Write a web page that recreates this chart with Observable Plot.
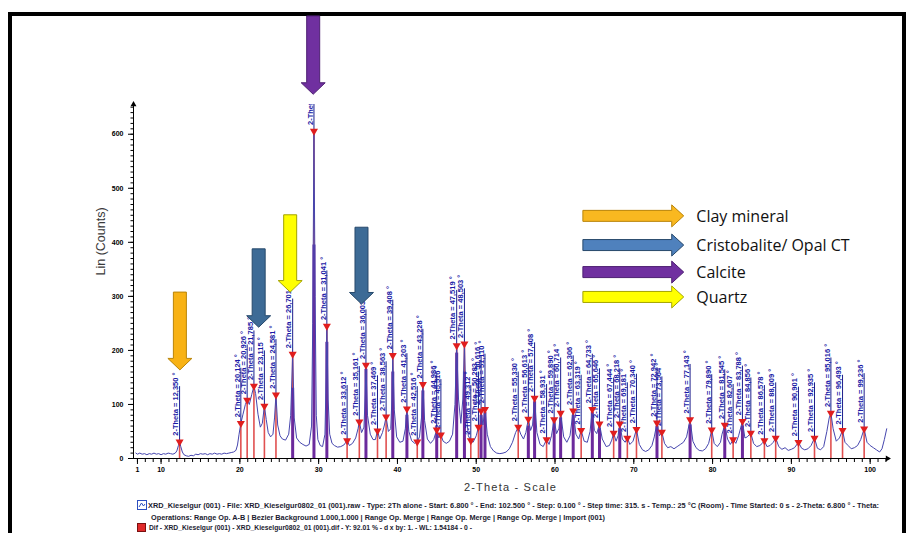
<!DOCTYPE html>
<html><head><meta charset="utf-8">
<script src="https://cdn.jsdelivr.net/npm/d3@7"></script>
<script src="https://cdn.jsdelivr.net/npm/@observablehq/plot@0.6"></script>
<style>
html,body{margin:0;padding:0;background:#fff;}
#wrap{position:relative;width:912px;height:533px;overflow:hidden;background:#fff;font-family:"Liberation Sans",Arial,sans-serif;}
#frame{position:absolute;left:8px;top:12px;width:890px;height:600px;border:4px solid #000;}
#chart{position:absolute;left:0;top:0;}
#caption{position:absolute;left:0;top:495px;}
</style></head><body>
<div id="wrap"><div id="frame"></div><div id="chart"></div></div>
<script>
// ---------- data ----------
const xDomain = [6.5, 102.2];
const yDomain = [0, 655];
const xTicks = [7, 10, 20, 30, 40, 50, 60, 70, 80, 90, 100];
const xTickLabels = ["1", "10", "20", "30", "40", "50", "60", "70", "80", "90", "100"];
const yTicks = [0, 100, 200, 300, 400, 500, 600];

// measured scan (2-Theta, counts)
const scan = [
 [6.8,10],[7.0,8],[7.3,10],[7.6,8],[7.9,9],[8.2,7],[8.5,9],[8.8,8],[9.1,10],[9.4,8],[9.7,9],[10.0,7],[10.3,9],[10.6,8],[10.9,10],[11.2,9],[11.5,8],[11.8,10],[12.0,14],[12.2,24],[12.35,31],[12.5,22],[12.7,12],[12.9,7],[13.2,5],[13.5,4],[13.8,6],[14.1,5],[14.4,8],[14.7,7],[15.0,9],[15.3,8],[15.6,9],[15.9,7],[16.2,9],[16.5,8],[16.8,10],[17.1,8],[17.4,9],[17.7,8],[18.0,10],[18.3,9],[18.6,10],[18.9,11],[19.2,12],[19.5,15],[19.7,25],[19.9,45],
 [20.124,65],[20.4,82],[20.7,100],[20.926,108],[21.2,100],[21.5,118],[21.785,134],[22.0,120],[22.3,82],[22.6,58],[22.85,65],[23.115,97],[23.35,72],[23.6,48],[23.9,40],[24.2,45],[24.4,75],[24.581,118],[24.8,62],[25.1,42],[25.4,36],[25.8,34],[26.2,45],[26.45,80],[26.701,193],[26.9,75],[27.2,38],[27.6,30],[28.0,26],[28.4,23],[28.8,26],[29.1,60],[29.25,250],[29.404,606],[29.55,300],[29.7,80],[29.9,35],
 [30.2,24],[30.5,22],[30.8,45],[30.95,150],[31.041,245],[31.2,110],[31.4,45],[31.7,28],[32.0,24],[32.4,21],[32.8,22],[33.2,25],[33.612,33],[33.9,24],[34.3,28],[34.7,38],[35.0,55],[35.161,68],[35.45,48],[35.75,58],[35.92,120],[36.003,173],[36.2,80],[36.55,45],[36.9,35],[37.2,35],[37.469,51],[37.75,36],[38.1,48],[38.35,62],[38.563,77],[38.85,50],[39.15,55],[39.3,110],[39.408,191],[39.6,90],[39.9,40],
 [40.3,30],[40.7,32],[41.0,55],[41.203,92],[41.45,50],[41.8,33],[42.2,28],[42.516,31],[42.8,40],[43.05,75],[43.228,137],[43.45,70],[43.8,36],[44.2,28],[44.6,35],[44.986,53],[45.25,38],[45.516,44],[45.8,32],[46.2,28],[46.6,32],[47.0,45],[47.3,100],[47.519,209],[47.75,110],[48.05,65],[48.3,110],[48.503,212],[48.75,80],[49.0,42],[49.312,33],[49.6,30],[50.0,42],[50.283,58],[50.45,55],[50.616,88],[50.85,62],[51.11,91],[51.4,45],[51.8,22],
 [52.2,14],[52.6,10],[53.0,9],[53.4,10],[53.8,12],[54.2,18],[54.6,30],[55.0,48],[55.33,58],[55.65,45],[56.0,36],[56.3,48],[56.613,73],[56.9,52],[57.15,62],[57.408,112],[57.7,48],[58.1,26],[58.5,22],[58.931,35],[59.25,26],[59.55,42],[59.89,72],[60.2,46],[60.5,56],[60.714,84],[61.1,40],[61.5,30],[61.9,42],[62.306,88],[62.65,45],[63.0,36],[63.319,52],[63.7,32],[64.1,30],[64.45,50],[64.733,91],[65.0,52],[65.3,46],[65.646,64],[66.0,36],[66.5,22],[66.9,24],[67.2,34],[67.444,47],[67.75,32],[68.0,42],[68.218,64],[68.55,36],[68.9,30],[69.181,38],[69.5,26],[69.9,32],[70.34,54],[70.7,26],
 [71.1,16],[71.5,13],[71.9,16],[72.3,24],[72.6,40],[72.942,66],[73.25,42],[73.564,49],[73.9,28],[74.3,20],[74.7,22],[75.1,18],[75.5,22],[75.9,26],[76.3,30],[76.7,40],[77.143,72],[77.5,32],[77.9,20],[78.3,15],[78.7,14],[79.1,18],[79.5,28],[79.89,53],[80.2,28],[80.6,22],[81.0,30],[81.2,45],[81.545,62],[81.9,36],[82.25,26],[82.607,35],[82.95,28],[83.3,42],[83.788,69],[84.1,38],[84.4,40],[84.856,47],[85.2,28],[85.6,22],[86.0,24],[86.3,28],[86.578,33],[86.9,22],[87.3,24],[87.7,30],[88.009,38],[88.4,22],[88.8,17],[89.2,20],[89.6,15],[90.0,17],[90.4,20],[90.901,30],
 [91.3,19],[91.7,16],[92.1,18],[92.5,24],[92.935,38],[93.3,19],[93.7,16],[94.1,22],[94.5,50],[94.8,75],[95.016,84],[95.3,55],[95.7,32],[96.1,38],[96.493,52],[96.8,30],[97.2,24],[97.6,18],[98.0,20],[98.4,24],[98.8,35],[99.236,55],[99.6,30],[100.0,24],[100.4,20],[100.8,16],[101.2,12],[101.5,18],[101.8,35],[102.1,55]
];

// identified peaks (2-Theta position, marker counts)
const peakTheta = [12.350,20.124,20.926,21.785,23.115,24.581,26.701,29.404,31.041,33.612,35.161,36.003,37.469,38.563,39.408,41.203,42.516,43.228,44.986,45.516,47.519,48.503,49.312,50.283,50.616,51.110,55.330,56.613,57.408,58.931,59.890,60.714,62.306,63.319,64.733,65.646,67.444,68.218,69.181,70.340,72.942,73.564,77.143,79.890,81.545,82.607,83.788,84.856,86.578,88.009,90.901,92.935,95.016,96.493,99.236];
const peakCounts = [31,65,108,134,97,118,193,606,245,33,68,173,51,77,191,92,31,137,53,44,209,212,33,58,88,91,58,73,112,35,72,84,88,52,91,64,47,64,38,54,66,49,72,53,62,35,69,47,33,38,30,38,84,52,55];

// calcite phase sticks
const calciteTheta = [26.701,29.404,31.041,36.003,39.408,41.203,43.228,44.986,47.519,48.503,50.616,51.110,56.613,57.408,59.890,60.714,62.306,64.733,65.646,68.218,72.942,77.143,81.545,83.788];
const calciteCounts = [130,395,215,165,160,80,125,45,195,160,80,85,60,105,68,75,80,85,55,55,60,62,55,60];

// annotation arrows (center 2-Theta, top counts, tip counts)
const arrowKind = ["clay","cristo","quartz","cristo","calcite"];
const arrowTheta = [12.45, 22.45, 26.45, 35.5, 29.37];
const arrowTop = [307, 387, 450, 427, 818];
const arrowTip = [163, 242, 307, 285, 673];

// legend
const legendNames = ["Clay mineral", "Cristobalite/ Opal CT", "Calcite", "Quartz"];
const legendKinds = ["clay","cristo","calcite","quartz"];
const legendCounts = [448, 394, 344, 298];
const legendTheta = [63.6, 76.4, 78.0];

const arrowFill = {clay:"#f8b214", cristo:"#3d6b96", calcite:"#7030a0", quartz:"#ffff00"};
const arrowStroke = {clay:"#b98409", cristo:"#27496b", calcite:"#4d1f72", quartz:"#a3a300"};
const legendFill = {clay:"#f9b820", cristo:"#4f81bd", calcite:"#7030a0", quartz:"#ffff00"};

// ---------- build ----------
const scanData = scan.map(([t, c]) => ({theta: t, count: c}));
const fmt = d3.format(".3f");
const peaks = peakTheta.map((t, i) => ({theta: t, count: peakCounts[i], label: "2-Theta = " + fmt(t).replace(".", ",") + " °"}));
const calcite = calciteTheta.map((t, i) => ({theta: t, count: calciteCounts[i]}));
const labelSpan = 102;
const xLabelMap = new Map(xTicks.map((t, i) => [t, xTickLabels[i]]));
const yMinor = d3.range(0, 651, 10);
const xMinor = d3.range(7, 103, 1);

const chart = Plot.plot({
  width: 912, height: 495,
  marginLeft: 133, marginRight: 25, marginTop: 104, marginBottom: 37,
  x: {domain: xDomain},
  y: {domain: yDomain},
  style: {fontFamily: "Liberation Sans, Arial, sans-serif", background: "transparent", overflow: "visible"},
  marks: [
    Plot.ruleX(peaks, {x: "theta", y1: 0, y2: "count", stroke: "#e05050", strokeWidth: 1.6}),
    Plot.ruleX(calcite, {x: "theta", y1: 0, y2: "count", stroke: "#6b2a9c", strokeWidth: 3}),
    Plot.line(scanData, {x: "theta", y: "count", stroke: "#4646ae", strokeWidth: 1}),
    Plot.ruleX(peaks, {x: "theta", y1: "count", y2: d => d.count + labelSpan, stroke: "#1e1e8c", strokeWidth: 1, clip: true}),
    Plot.text(peaks, {x: "theta", y: "count", text: "label", rotate: -90, textAnchor: "start", lineAnchor: "bottom", dx: -1.2, dy: -6, fill: "#1a1aa6", fontSize: 7.5, fontWeight: "bold", clip: true, ariaLabel: "peak-labels"}),
    Plot.dot(peaks, {x: "theta", y: "count", symbol: "triangle", rotate: 180, r: 3, fill: "#e01e1e", stroke: "none"}),
    Plot.ruleY([yDomain[0]], {stroke: "#000", strokeWidth: 1}),
    Plot.ruleX([xDomain[0]], {stroke: "#000", strokeWidth: 1}),
    Plot.axisY({ticks: yMinor, tickSize: 2.5, tickFormat: () => "", label: null}),
    Plot.axisY({ticks: yTicks, tickSize: 5, tickPadding: 5, fontSize: 7, fontWeight: "bold", label: null}),
    Plot.axisX({ticks: xMinor, tickSize: 4, tickFormat: () => "", label: null}),
    Plot.axisX({ticks: xTicks, tickSize: 6, tickPadding: 3, fontSize: 7, fontWeight: "bold", tickFormat: d => xLabelMap.get(d), label: null}),
    Plot.dot([{x: xDomain[0], y: yDomain[1]}], {x: "x", y: "y", symbol: "triangle", r: 2.2, fill: "#000", stroke: "none"}),
    Plot.dot([{x: xDomain[1], y: yDomain[0]}], {x: "x", y: "y", symbol: "triangle", rotate: 90, r: 2.2, fill: "#000", stroke: "none"}),
    Plot.text(["Lin (Counts)"], {frameAnchor: "left", dx: -33, dy: -6, rotate: -90, fontSize: 12.5, fill: "#3a3a3a"}),
    Plot.text(["2-Theta - Scale"], {frameAnchor: "bottom", dy: 32, fontSize: 11, fill: "#333"})
  ]
});
document.getElementById("chart").appendChild(chart);
const svg = d3.select(chart);
svg.selectAll('g[aria-label="peak-labels"] text').attr("textLength", 46).attr("lengthAdjust", "spacingAndGlyphs");
svg.selectAll("text").filter(function(){ return this.textContent === "2-Theta - Scale"; }).style("letter-spacing", "1.2px");

// arrows using the chart's scales
const sx = chart.scale("x"), sy = chart.scale("y");
const X = v => sx.apply(v), Y = v => sy.apply(v);
const ga = svg.append("g").attr("aria-label", "arrows");
arrowTheta.forEach((t, i) => {
  const cx = X(t), y0 = Y(arrowTop[i]), y1 = Y(arrowTip[i]);
  const sw = 6.5, hw = 12, hl = 11.5;
  const p = `M${cx-sw},${y0}L${cx+sw},${y0}L${cx+sw},${y1-hl}L${cx+hw},${y1-hl}L${cx},${y1}L${cx-hw},${y1-hl}L${cx-sw},${y1-hl}Z`;
  ga.append("path").attr("d", p).attr("fill", arrowFill[arrowKind[i]]).attr("stroke", arrowStroke[arrowKind[i]]).attr("stroke-width", 1);
});
const gl = svg.append("g").attr("aria-label", "legend");
legendNames.forEach((name, i) => {
  const x0 = X(legendTheta[0]), x1 = X(legendTheta[1]), cy = Y(legendCounts[i]);
  const sh = 5.5, hh = 11, hl = 12;
  const p = `M${x0},${cy-sh}L${x1-hl},${cy-sh}L${x1-hl},${cy-hh}L${x1},${cy}L${x1-hl},${cy+hh}L${x1-hl},${cy+sh}L${x0},${cy+sh}Z`;
  gl.append("path").attr("d", p).attr("fill", legendFill[legendKinds[i]]).attr("stroke", arrowStroke[legendKinds[i]]).attr("stroke-width", 1);
  gl.append("text").attr("x", X(legendTheta[2])).attr("y", cy + 6).attr("text-anchor", "start")
    .attr("font-family", "'Open Sans', Lato, sans-serif").attr("font-size", 16).attr("fill", "#111").text(name);
});

// caption below the plot
const captionLines = [
  "XRD_Kieselgur (001) - File: XRD_Kieselgur0802_01 (001).raw - Type: 2Th alone - Start: 6.800 ° - End: 102.500 ° - Step: 0.100 ° - Step time: 315. s - Temp.: 25 °C (Room) - Time Started: 0 s - 2-Theta: 6.800 ° - Theta:",
  "Operations: Range Op. A-B | Bezier Background 1.000,1.000 | Range Op. Merge | Range Op. Merge | Range Op. Merge | Import (001)",
  "Dif - XRD_Kieselgur (001) - XRD_Kieselgur0802_01 (001).dif - Y: 92.01 % - d x by: 1. - WL: 1.54184 - 0 -"
];
const cap = d3.select("#wrap").append("svg").attr("id", "caption").attr("width", 912).attr("height", 38);
cap.append("rect").attr("x", 137.5).attr("y", 5.5).attr("width", 9).attr("height", 9).attr("fill", "#fff").attr("stroke", "#2d4fc0");
cap.append("path").attr("d", "M139,12L141.5,8L143.5,11L145,9").attr("fill", "none").attr("stroke", "#2d4fc0");
cap.append("rect").attr("x", 137.5).attr("y", 28.5).attr("width", 8).attr("height", 8).attr("fill", "#e02a2a").attr("stroke", "#7a1010");
const capX = [148, 151, 149], capY = [13, 24.5, 35], capLen = [731, 454, 323];
captionLines.forEach((s, i) => {
  cap.append("text").attr("x", capX[i]).attr("y", capY[i]).attr("font-size", 7.5).attr("font-weight", "bold")
    .attr("fill", "#1b1b30").attr("textLength", capLen[i]).attr("lengthAdjust", "spacingAndGlyphs")
    .attr("font-family", "Liberation Sans, Arial, sans-serif").text(s);
});
</script>
</body></html>
